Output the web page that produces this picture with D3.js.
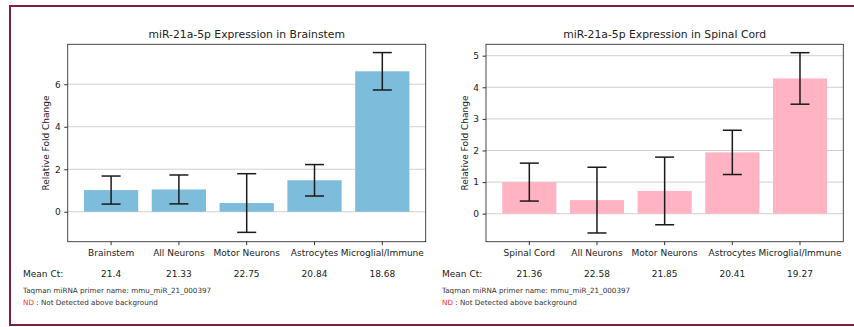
<!DOCTYPE html>
<html>
<head>
<meta charset="utf-8">
<script src="https://cdn.jsdelivr.net/npm/d3@7"></script>
<style>
  html, body { margin: 0; padding: 0; background: #ffffff; }
  svg { display: block; font-family: "DejaVu Sans", sans-serif; }
</style>
</head>
<body>
<svg id="chart" width="854" height="327"></svg>
<script>
// ---------- Data ----------
const brainstemCategories = ["Brainstem", "All Neurons", "Motor Neurons", "Astrocytes", "Microglial/Immune"];
const brainstemValues = [1.02, 1.05, 0.41, 1.48, 6.61];
const brainstemErrors = [0.66, 0.68, 1.38, 0.74, 0.88];
const brainstemMeanCt = ["21.4", "21.33", "22.75", "20.84", "18.68"];
const brainstemTicks = [0, 2, 4, 6];

const spinalCategories = ["Spinal Cord", "All Neurons", "Motor Neurons", "Astrocytes", "Microglial/Immune"];
const spinalValues = [1.0, 0.43, 0.72, 1.94, 4.28];
const spinalErrors = [0.6, 1.04, 1.07, 0.7, 0.815];
const spinalMeanCt = ["21.36", "22.58", "21.85", "20.41", "19.27"];
const spinalTicks = [0, 1, 2, 3, 4, 5];

const titles = ["miR-21a-5p Expression in Brainstem", "miR-21a-5p Expression in Spinal Cord"];
const yLabel = "Relative Fold Change";
const meanCtLabel = "Mean Ct:";
const primerNote = "Taqman miRNA primer name: mmu_miR_21_000397";
const ndLabel = "ND";
const ndNote = " : Not Detected above background";

// ---------- Drawing ----------
const svg = d3.select("#chart");

// outer frame
svg.append("rect")
  .attr("x", 10).attr("y", 6)
  .attr("width", 880).attr("height", 319)
  .attr("fill", "none")
  .attr("stroke", "#7a2046")
  .attr("stroke-width", 2);

const panels = [
  { cats: brainstemCategories, vals: brainstemValues, errs: brainstemErrors, ct: brainstemMeanCt,
    ticks: brainstemTicks, domain: [-1.41, 7.88], color: "#7ebcdc", title: titles[0],
    x0: 67.7, x1: 425.7, textX: 23 },
  { cats: spinalCategories, vals: spinalValues, errs: spinalErrors, ct: spinalMeanCt,
    ticks: spinalTicks, domain: [-0.886, 5.36], color: "#ffb3c3", title: titles[1],
    x0: 486, x1: 843.3, textX: 442 }
];
const yTop = 44.3, yBot = 241.7;

panels.forEach(p => {
  const g = svg.append("g");
  const x = d3.scaleBand().domain(p.cats).range([p.x0, p.x1])
    .paddingInner(0.2).paddingOuter(0.24);
  const y = d3.scaleLinear().domain(p.domain).range([yBot, yTop]);

  // gridlines
  g.append("g").selectAll("line").data(p.ticks).join("line")
    .attr("x1", p.x0).attr("x2", p.x1)
    .attr("y1", d => y(d)).attr("y2", d => y(d))
    .attr("stroke", "#d0d0d0").attr("stroke-width", 1);

  // bars
  g.append("g").selectAll("rect").data(p.vals).join("rect")
    .attr("x", (d, i) => x(p.cats[i]))
    .attr("width", x.bandwidth())
    .attr("y", d => Math.min(y(d), y(0)))
    .attr("height", d => Math.abs(y(0) - y(d)))
    .attr("fill", p.color);

  // error bars
  const eb = g.append("g").attr("stroke", "#1a1a1a").attr("stroke-width", 1.5);
  const cap = 9.5;
  p.vals.forEach((v, i) => {
    const cx = x(p.cats[i]) + x.bandwidth() / 2;
    const hi = y(v + p.errs[i]), lo = y(v - p.errs[i]);
    eb.append("line").attr("x1", cx).attr("x2", cx).attr("y1", hi).attr("y2", lo);
    eb.append("line").attr("x1", cx - cap).attr("x2", cx + cap).attr("y1", hi).attr("y2", hi);
    eb.append("line").attr("x1", cx - cap).attr("x2", cx + cap).attr("y1", lo).attr("y2", lo);
  });

  // axes frame
  g.append("rect")
    .attr("x", p.x0).attr("y", yTop)
    .attr("width", p.x1 - p.x0).attr("height", yBot - yTop)
    .attr("fill", "none").attr("stroke", "#333").attr("stroke-width", 0.9);

  // y axis
  const ya = g.append("g").attr("transform", `translate(${p.x0},0)`)
    .call(d3.axisLeft(y).tickValues(p.ticks).tickSize(3.5).tickPadding(3.5).tickFormat(d3.format("d")));
  ya.select(".domain").remove();
  ya.selectAll("line").attr("stroke", "#333");
  ya.selectAll("text").attr("font-size", 9).attr("fill", "#222")
    .attr("font-family", "DejaVu Sans, sans-serif");

  // x axis
  const xa = g.append("g").attr("transform", `translate(0,${yBot})`)
    .call(d3.axisBottom(x).tickSize(3.5).tickPadding(4.5));
  xa.select(".domain").remove();
  xa.selectAll("line").attr("stroke", "#333");
  xa.selectAll("text").attr("font-size", 9).attr("fill", "#222")
    .attr("font-family", "DejaVu Sans, sans-serif");

  // title
  g.append("text")
    .attr("x", (p.x0 + p.x1) / 2).attr("y", 38)
    .attr("text-anchor", "middle")
    .attr("font-size", 10.8).attr("fill", "#222")
    .text(p.title);

  // y label
  g.append("text")
    .attr("transform", `translate(${p.x0 - 18.5},${(yTop + yBot) / 2}) rotate(-90)`)
    .attr("text-anchor", "middle")
    .attr("font-size", 9).attr("fill", "#222")
    .text(yLabel);

  // Mean Ct row
  g.append("text")
    .attr("x", p.textX).attr("y", 276.5)
    .attr("font-size", 9).attr("fill", "#222")
    .text(meanCtLabel);
  g.append("g").selectAll("text").data(p.ct).join("text")
    .attr("x", (d, i) => x(p.cats[i]) + x.bandwidth() / 2)
    .attr("y", 276.5)
    .attr("text-anchor", "middle")
    .attr("font-size", 9).attr("fill", "#222")
    .text(d => d);

  // notes
  g.append("text")
    .attr("x", p.textX).attr("y", 292.5)
    .attr("font-size", 7.2).attr("fill", "#333")
    .text(primerNote);
  const nd = g.append("text")
    .attr("x", p.textX).attr("y", 304.8)
    .attr("font-size", 7.2).attr("fill", "#333");
  nd.append("tspan").attr("fill", "#ff2a2a").text(ndLabel);
  nd.append("tspan").text(ndNote);
});
</script>
</body>
</html>
